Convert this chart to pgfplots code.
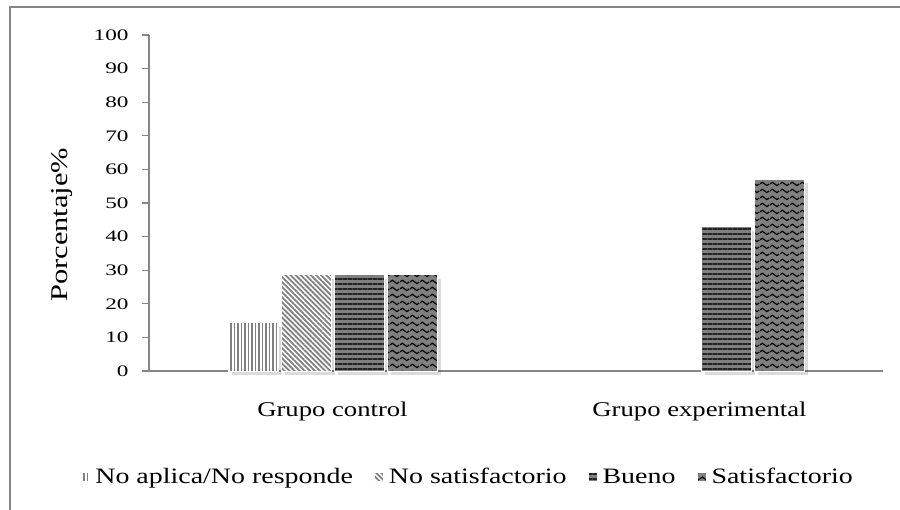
\documentclass[border=0pt]{standalone}
\usepackage{fontspec}
\setmainfont{Liberation Serif}
\newfontfamily\widefont{Liberation Serif}[FakeStretch=1.27]
\newfontfamily\tickfont{Liberation Serif}[FakeStretch=1.45]
\usepackage{pgfplots}
\pgfplotsset{compat=1.18}
\usetikzlibrary{patterns.meta}

\definecolor{pgray}{RGB}{128,128,128}
\definecolor{pdark}{RGB}{36,36,36}
\definecolor{axgray}{RGB}{134,134,134}

% wavy lines
\pgfdeclarepattern{
  name=waves, type=uncolored,
  bottom left={\pgfpoint{0pt}{0pt}}, top right={\pgfpoint{10pt}{7pt}},
  tile size={\pgfpoint{10pt}{7pt}},
  code={
    \pgfsetlinewidth{1.3pt}
    \pgfpathmoveto{\pgfpoint{0pt}{3.5pt}}
    \pgfpathcurveto{\pgfpoint{1.2pt}{6pt}}{\pgfpoint{3.8pt}{6pt}}{\pgfpoint{5pt}{3.5pt}}
    \pgfpathcurveto{\pgfpoint{6.2pt}{1pt}}{\pgfpoint{8.8pt}{1pt}}{\pgfpoint{10pt}{3.5pt}}
    \pgfusepath{stroke}}
}

\tikzset{
  sA/.style={fill=white, postaction={pattern={Lines[angle=90,distance=3.5pt,line width=1.9pt]}, pattern color=pgray}},
  sB/.style={fill=white, postaction={pattern={Lines[angle=-45,distance=3.6pt,line width=1.8pt]}, pattern color=pgray}},
  sC/.style={fill=pgray, postaction={pattern={Lines[angle=0,distance=5pt,line width=2.8pt]}, pattern color=pdark}},
  sD/.style={fill=pgray, postaction={pattern=waves, pattern color=black}},
  shade/.style={fill=black, fill opacity=0.14, draw=none, yshift=-4pt},
}

\pgfplotstableread{
x  noaplica nosatisf bueno satisf
0  14.3     28.6     28.6  28.6
}\controlgroup
\pgfplotstableread{
x  bueno satisf
1  42.9  57.1
}\expgroup

\begin{document}
\begin{tikzpicture}[x=1pt,y=1pt]
\useasboundingbox (0,0) rectangle (900,509);
\draw[axgray, line width=2pt] (10,-2) -- (10,502) -- (902,502);
\begin{axis}[
  at={(149pt,138pt)}, anchor=south west,
  scale only axis, width=734pt, height=336pt,
  clip=false,
  ybar, bar width=50pt,
  xmin=-0.5, xmax=1.5, ymin=0, ymax=100,
  axis x line*=bottom, axis y line*=left,
  axis line style={axgray, line width=1.3pt},
  xtick={0,1}, xticklabels={Grupo control, Grupo experimental},
  extra x ticks={-0.5,0.5,1.5}, extra x tick labels={},
  extra x tick style={major tick length=7pt, tick align=outside, tick style={axgray, line width=1.3pt}},
  ytick={0,10,...,100},
  tick align=outside,
  major tick length=7pt,
  tick style={axgray, line width=1.3pt},
  x tick style={draw=none},
  /pgf/number format/assume math mode=true,
  yticklabel style={font=\tickfont\fontsize{16}{19}\selectfont, xshift=-10pt},
  xticklabel style={font=\widefont\fontsize{21}{25}\selectfont, yshift=-20pt},
  legend style={draw=none, fill=none, at={(0.434,-0.315)}, anchor=center,
    legend columns=4, font=\widefont\fontsize{22}{26}\selectfont,
    /tikz/every even column/.append style={column sep=19pt},
    /tikz/every odd column/.append style={column sep=3pt}},
  legend image code/.code={\draw[#1, draw=none] (0pt,-4.5pt) rectangle (9pt,4.5pt);},
]
% soft shadows behind the bars
\addplot[shade, forget plot, bar shift=-75.5pt] table[x=x, y=noaplica] {\controlgroup};
\addplot[shade, forget plot, bar shift=-22.5pt] table[x=x, y=nosatisf] {\controlgroup};
\addplot[shade, forget plot, bar shift=30.5pt] table[x=x, y=bueno] {\controlgroup};
\addplot[shade, forget plot, bar shift=83.5pt] table[x=x, y=satisf] {\controlgroup};
\addplot[shade, forget plot, bar shift=30.5pt] table[x=x, y=bueno] {\expgroup};
\addplot[shade, forget plot, bar shift=83.5pt] table[x=x, y=satisf] {\expgroup};
% bars
\addplot[sA, draw=white, line width=1pt, bar shift=-79.5pt] table[x=x, y=noaplica] {\controlgroup};
\addlegendentry{No aplica/No responde}
\addplot[sB, draw=white, line width=1pt, bar shift=-26.5pt] table[x=x, y=nosatisf] {\controlgroup};
\addlegendentry{No satisfactorio}
\addplot[sC, draw=white, line width=1pt, bar shift=26.5pt] table[x=x, y=bueno] {\controlgroup};
\addlegendentry{Bueno}
\addplot[sD, draw=white, line width=1pt, bar shift=79.5pt] table[x=x, y=satisf] {\controlgroup};
\addlegendentry{Satisfactorio}
\addplot[sC, draw=white, line width=1pt, bar shift=26.5pt, forget plot] table[x=x, y=bueno] {\expgroup};
\addplot[sD, draw=white, line width=1pt, bar shift=79.5pt, forget plot] table[x=x, y=satisf] {\expgroup};
\node[rotate=90, font=\widefont\fontsize{24}{28}\selectfont] at (axis description cs:-0.1185,0.435) {Porcentaje\%};
\end{axis}
\end{tikzpicture}
\end{document}
